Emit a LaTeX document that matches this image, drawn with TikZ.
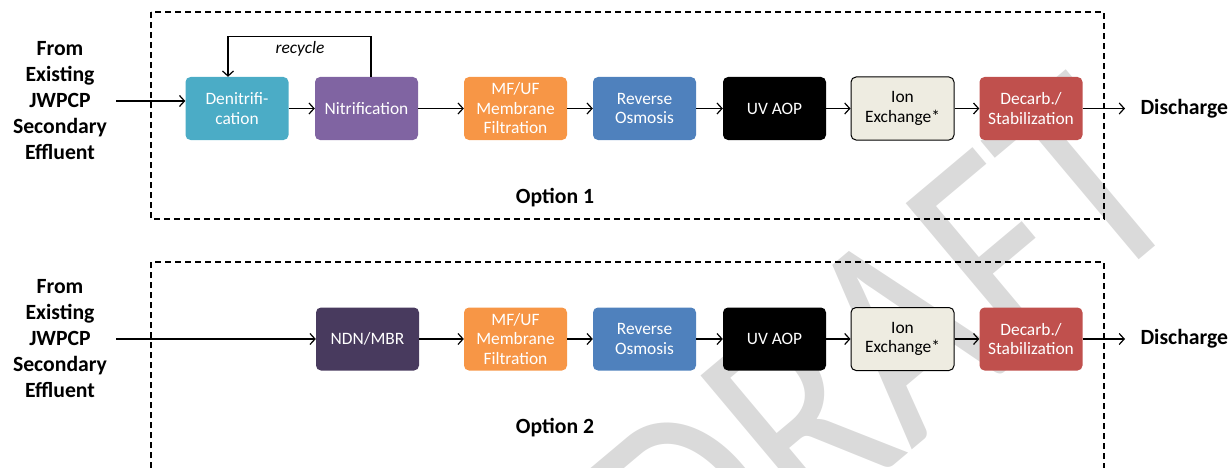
\documentclass[tikz,border=0pt]{standalone}
\usepackage{fontspec}
\setmainfont{Carlito}
\usetikzlibrary{arrows.meta,calc}
\definecolor{denit}{HTML}{4BACC6}
\definecolor{nitri}{HTML}{8064A2}
\definecolor{membr}{HTML}{F79646}
\definecolor{revos}{HTML}{4F81BD}
\definecolor{ionex}{HTML}{EEECE1}
\definecolor{decarb}{HTML}{C0504D}
\definecolor{ndnmbr}{HTML}{483A5E}
\definecolor{wmark}{HTML}{DADADA}
\begin{document}
\begin{tikzpicture}[x=1pt,y=-1pt,
  proc/.style={rounded corners=5pt, minimum width=103pt, minimum height=63pt,
    inner sep=0pt, align=center, text=white, font=\fontsize{17.4}{19.5}\selectfont},
  flow/.style={line width=1.2pt, -{Straight Barb[length=5pt,width=11pt]}},
  frame/.style={dash pattern=on 6pt off 4pt, line width=1.2pt},
  lbl/.style={font=\bfseries\fontsize{21.7}{26}\selectfont, align=center},
  optlbl/.style={font=\bfseries\fontsize{21.7}{26}\selectfont}]
\useasboundingbox (0,0) rectangle (1228,468);

% watermark behind everything
\node[rotate=40, anchor=base east, text=wmark, inner sep=0pt] (wm) at (1192,215.5)
  {\fontsize{300}{300}\selectfont\scalebox{0.8}[1]{DRAFT}};

% option frames
\draw[frame] (151,12) rectangle (1104,219);
\draw[frame] (151,468) -- (151,262) -- (1104,262) -- (1104,468);
\node[optlbl] (opt1) at (555,198) {Option 1};
\node[optlbl] (opt2) at (555,428) {Option 2};

% sources
\node[lbl] (src1) at (60,101) {From\\Existing\\JWPCP\\Secondary\\Effluent};
\node[lbl] (src2) at (60,339) {From\\Existing\\JWPCP\\Secondary\\Effluent};
\coordinate (in1) at (116,101);
\coordinate (in2) at (116,339);

% option 1 train
\node[proc, fill=denit] (den) at (237,108.5) {Denitrifi-\\cation};
\node[proc, fill=nitri] (nit) at (366.5,108.5) {Nitrification};
\node[proc, fill=membr] (mf1) at (515.5,108.5) {MF/UF\\Membrane\\Filtration};
\node[proc, fill=revos] (ro1) at (644.5,108.5) {Reverse\\Osmosis};
\node[proc, fill=black] (uv1) at (774.5,108.5) {UV AOP};
\node[proc, fill=ionex, draw=black, line width=1pt, text=black] (ix1) at (902.5,108.5) {Ion\\Exchange*};
\node[proc, fill=decarb] (dc1) at (1031,108.5) {Decarb./\\Stabilization};
\node[optlbl, anchor=west] (dis1) at (1137,108.5) {Discharge};

% option 2 train
\node[proc, fill=ndnmbr] (ndn) at (367.5,339) {NDN/MBR};
\node[proc, fill=membr] (mf2) at (515.5,339) {MF/UF\\Membrane\\Filtration};
\node[proc, fill=revos] (ro2) at (644.5,339) {Reverse\\Osmosis};
\node[proc, fill=black] (uv2) at (774.5,339) {UV AOP};
\node[proc, fill=ionex, draw=black, line width=1pt, text=black] (ix2) at (902.5,339) {Ion\\Exchange*};
\node[proc, fill=decarb] (dc2) at (1031,339) {Decarb./\\Stabilization};
\node[optlbl, anchor=west] (dis2) at (1137,339) {Discharge};

% flows, option 1
\draw[flow] (in1) -- (in1 -| den.west);
\draw[flow] (den) -- (nit);
\draw[flow] (nit) -- (mf1);
\draw[flow] (mf1) -- (ro1);
\draw[flow] (ro1) -- (uv1);
\draw[flow] (uv1) -- (ix1);
\draw[flow] (ix1) -- (dc1);
\draw[flow] (dc1.east) -- ([xshift=-12pt]dis1.west);
\draw[flow] ([xshift=4.5pt]nit.north) -- ++(0,-40) -| ([xshift=-9pt]den.north);
\node[font=\itshape\fontsize{17.4}{19.5}\selectfont] (rec) at (300,49) {recycle};

% flows, option 2
\draw[flow] (in2) -- (ndn);
\draw[flow] (ndn) -- (mf2);
\draw[flow] (mf2) -- (ro2);
\draw[flow] (ro2) -- (uv2);
\draw[flow] (uv2) -- (ix2);
\draw[flow] (ix2) -- (dc2);
\draw[flow] (dc2.east) -- ([xshift=-12pt]dis2.west);
\end{tikzpicture}
\end{document}
